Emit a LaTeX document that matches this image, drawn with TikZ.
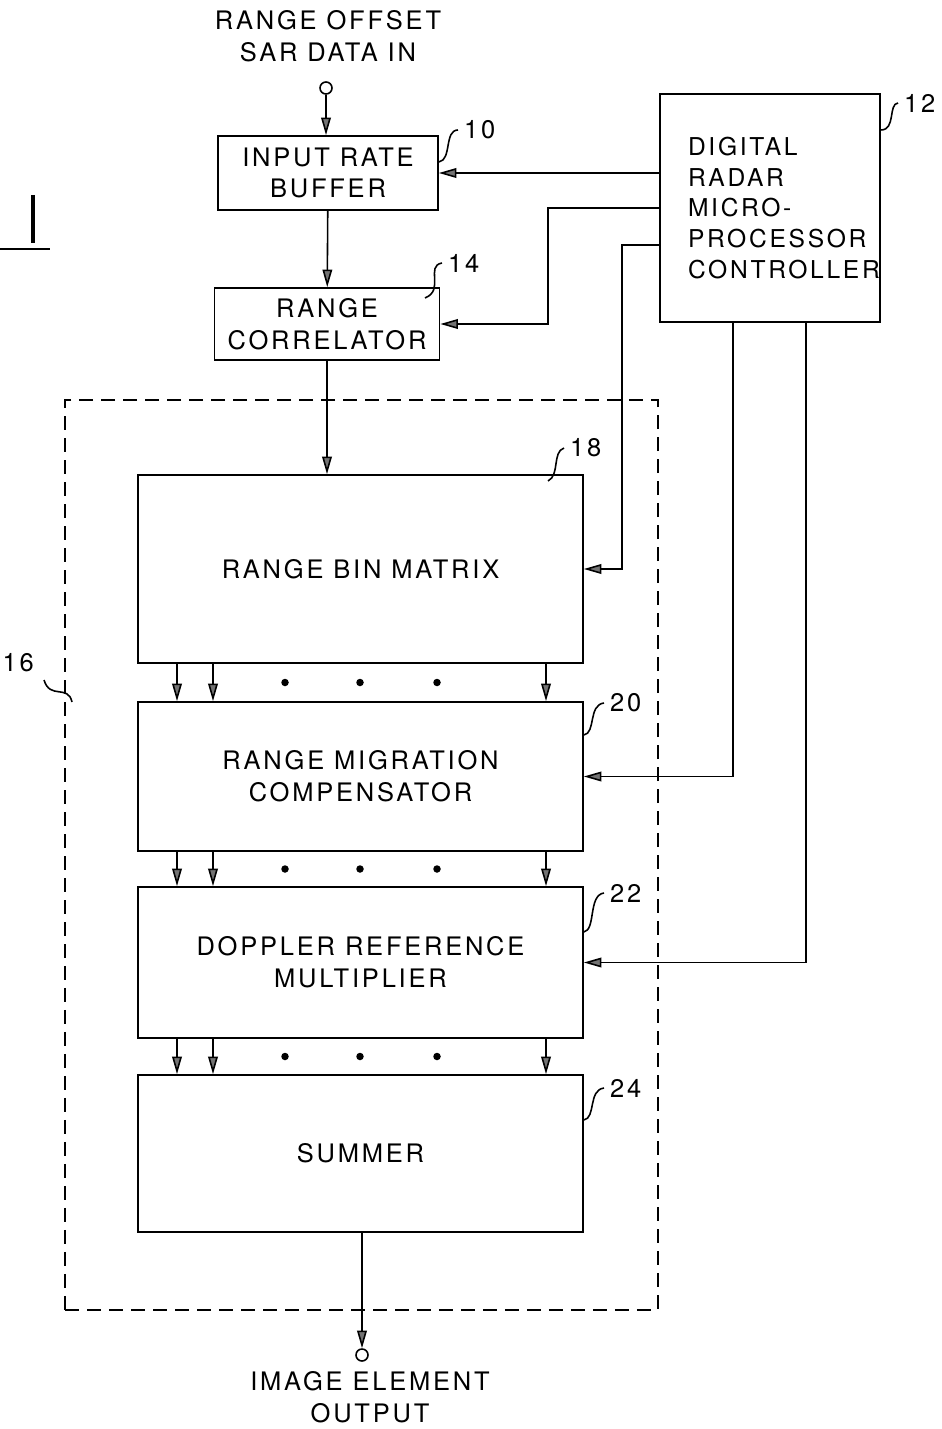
\documentclass[tikz,border=0pt]{standalone}
\usepackage{fontspec}
\newfontfamily\lettering[LetterSpace=11]{TeX Gyre Heros}
\usetikzlibrary{positioning, arrows.meta, calc}

\begin{document}
\begin{tikzpicture}[
  x=0.02cm, y=-0.02cm,
  >={Triangle[length=10pt, width=5.5pt, fill=black!55]},
  every node/.style={font=\lettering\fontsize{14.5}{18}\selectfont},
  block/.style={rectangle, draw, line width=1pt, align=center, inner sep=0pt},
  arr/.style={->, line width=0.9pt},
  lead/.style={line width=0.9pt},
  term/.style={circle, draw, line width=0.9pt, minimum size=0.24cm, inner sep=0pt},
  dotmark/.style={circle, fill, inner sep=0pt, minimum size=0.15cm},
]
\useasboundingbox (0,0) rectangle (942,1429);

% --- Figure mark ---
\draw[line width=2pt] (33,195) -- (33,243);
\draw[line width=1.2pt] (0,249) -- (50,249);

% --- Input chain ---
\node[align=center] (intxt) at (328,36) {RANGE OFFSET\\SAR DATA IN};
\node[term] (in) at (326,88) {};
\node[block, minimum width=4.4cm, minimum height=1.48cm] (buf) at (328,173) {INPUT RATE\\BUFFER};
\node[block, minimum width=4.5cm, minimum height=1.44cm] (corr) at (327,324) {RANGE\\CORRELATOR};
\node[block, text width=3.28cm, inner xsep=0.56cm, minimum height=4.56cm, align=left,
  font=\lettering\fontsize{14}{17.6}\selectfont] (ctrl) at (770,208)
  {DIGITAL\\RADAR\\MICRO-\\PROCESSOR\\CONTROLLER};

% --- Processor 16 ---
\node[rectangle, draw, dashed, line width=0.9pt, dash pattern=on 0.28cm off 0.16cm,
  minimum width=11.86cm, minimum height=18.2cm] (proc) at (361.5,855) {};
\node[block, minimum width=8.9cm, minimum height=3.76cm] (rbm) at (360.5,569) {RANGE BIN MATRIX};
\node[block, minimum width=8.9cm, minimum height=2.98cm] (rmc) at (360.5,776.5) {RANGE MIGRATION\\COMPENSATOR};
\node[block, minimum width=8.9cm, minimum height=3.02cm] (drm) at (360.5,962.5) {DOPPLER REFERENCE\\MULTIPLIER};
\node[block, minimum width=8.9cm, minimum height=3.14cm] (sum) at (360.5,1153.5) {SUMMER};

\node[term] (out) at (362,1355) {};
\node[align=center] (outtxt) at (370,1397) {IMAGE ELEMENT\\OUTPUT};

% --- Data path ---
\draw[arr] (in) -- (in |- buf.north);
\draw[arr] (buf) -- (corr);
\draw[arr] (corr) -- (corr |- rbm.north);
\foreach \up/\dn in {rbm/rmc, rmc/drm, drm/sum} {
  \foreach \xx in {177, 213, 546}
    \draw[arr] (\up.south -| \xx,0) -- (\dn.north -| \xx,0);
  \foreach \xx in {285, 360, 437}
    \node[dotmark] at ($(\up.south -| \xx,0)!0.5!(\dn.north -| \xx,0)$) {};
}
\draw[arr] (sum.south -| out) -- (out);

% --- Control lines ---
\draw[arr] (ctrl.west |- buf.east) -- (buf.east);
\draw[arr] (ctrl.west) -- (548,208) |- (corr.east);
\draw[arr] (ctrl.west |- 0,245) -- (622,245) |- (rbm.east);
\draw[arr] (ctrl.south -| 733,0) |- (rmc.east);
\draw[arr] (ctrl.south -| 806,0) |- (drm.east);

% --- Reference numerals ---
\node[anchor=west] (n10) at (458,130) {10};
\draw[lead] (buf.east |- 0,162) .. controls (452,160) and (444,130) .. (n10.west);
\node[anchor=west] (n12) at (898,103) {12};
\draw[lead] (ctrl.east |- 0,130) .. controls (896,130) and (888,104) .. (n12.west);
\node[anchor=west] (n14) at (442,263) {14};
\draw[lead] (425,298) .. controls (445,290) and (425,266) .. (n14.west);
\node[anchor=west] (n18) at (564,448) {18};
\draw[lead] (548,481) .. controls (560,475) and (552,452) .. (n18.west);
\node[anchor=west] (n20) at (604,703) {20};
\draw[lead] (rmc.east |- 0,735) .. controls (596,733) and (588,705) .. (n20.west);
\node[anchor=west] (n22) at (604,893) {22};
\draw[lead] (drm.east |- 0,932) .. controls (596,930) and (588,895) .. (n22.west);
\node[anchor=west] (n24) at (604,1088) {24};
\draw[lead] (sum.east |- 0,1120) .. controls (596,1118) and (588,1090) .. (n24.west);
\node[anchor=east] (n16) at (40,663) {16};
\draw[lead] (44,680) .. controls (50,700) and (68,684) .. (72,702);

\end{tikzpicture}
\end{document}
